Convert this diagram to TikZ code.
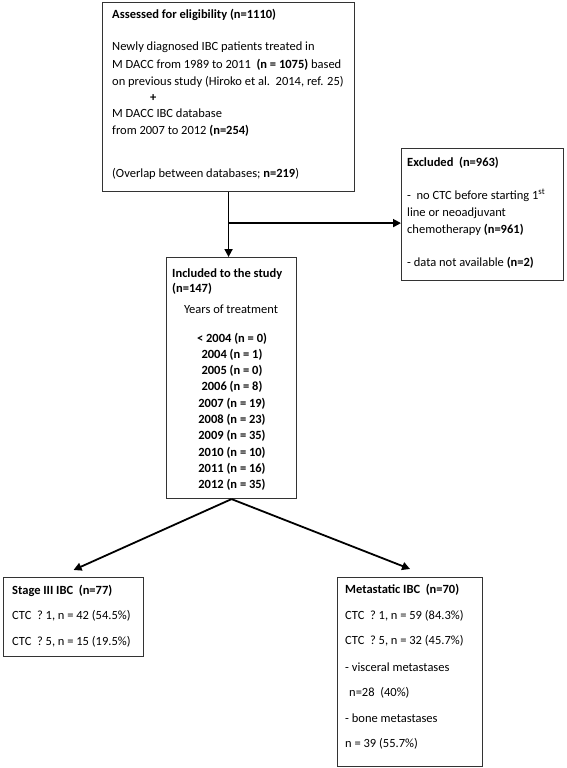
\documentclass[tikz,border=0pt]{standalone}
\usepackage{fontspec}
\setmainfont{Carlito}
\usetikzlibrary{arrows.meta,calc}
\begin{document}
\begin{tikzpicture}[x=1pt,y=-1pt,
  box/.style={draw=black!80, line width=1.1pt, anchor=north west, inner sep=0pt},
  tx/.style={anchor=base west, inner sep=0pt, font=\fontsize{12.5}{14}\selectfont},
  tc/.style={anchor=base, inner sep=0pt, font=\fontsize{12.5}{14}\selectfont},
  arr/.style={line width=1.8pt, -{Triangle[length=8pt,width=8pt]}}]
\useasboundingbox (0,0) rectangle (567,768);
\fill[white] (0,0) rectangle (567,768);
% boxes
\node[box, minimum width=252pt, minimum height=189pt] (top) at (102,2) {};
\node[box, minimum width=162pt, minimum height=132pt] (exc) at (401,148) {};
\node[box, minimum width=130pt, minimum height=241pt] (inc) at (166,257) {};
\node[box, minimum width=140pt, minimum height=79pt] (st) at (3,577) {};
\node[box, minimum width=145pt, minimum height=189pt] (met) at (337,577) {};
% top box text
\node[tx] (a1) at (112,19) {\textbf{Assessed for eligibility (n=1110)}};
\node[tx] (a2) at (112,51) {Newly diagnosed IBC patients treated in};
\node[tx] (a3) at (112,68) {M DACC from 1989 to 2011\ \ \textbf{(n = 1075)} based};
\node[tx] (a4) at (112,85) {on previous study (Hiroko et al.\ \ 2014, ref. 25)};
\node[tx] (a5) at (150,101) {\textbf{+}};
\node[tx] (a6) at (112,117) {M DACC IBC database};
\node[tx] (a7) at (112,134) {from 2007 to 2012 \textbf{(n=254)}};
\node[tx] (a8) at (112,177) {(Overlap between databases; \textbf{n=219})};
% excluded text
\node[tx] (e1) at (407,166) {\textbf{Excluded\ \ (n=963)}};
\node[tx] (e2) at (407,199) {-\ \ no CTC before starting 1\textsuperscript{st}};
\node[tx] (e3) at (407,216) {line or neoadjuvant};
\node[tx] (e4) at (407,233) {chemotherapy \textbf{(n=961)}};
\node[tx] (e5) at (407,266) {- data not available \textbf{(n=2)}};
% included text
\node[tx] (i1) at (172,277) {\textbf{Included to the study}};
\node[tx] (i2) at (172,292) {\textbf{(n=147)}};
\node[tc] (i3) at (231,313) {Years of treatment};
\node[tc] (y0) at (232,342) {\textbf{< 2004 (n = 0)}};
\node[tc] (y1) at (232,358.3) {\textbf{2004 (n = 1)}};
\node[tc] (y2) at (232,374.6) {\textbf{2005 (n = 0)}};
\node[tc] (y3) at (232,390.9) {\textbf{2006 (n = 8)}};
\node[tc] (y4) at (232,407.2) {\textbf{2007 (n = 19)}};
\node[tc] (y5) at (232,423.5) {\textbf{2008 (n = 23)}};
\node[tc] (y6) at (232,439.8) {\textbf{2009 (n = 35)}};
\node[tc] (y7) at (232,456.1) {\textbf{2010 (n = 10)}};
\node[tc] (y8) at (232,472.4) {\textbf{2011 (n = 16)}};
\node[tc] (y9) at (232,488.7) {\textbf{2012 (n = 35)}};
% stage III text
\node[tx] (s1) at (12,594) {\textbf{Stage III IBC\ \ (n=77)}};
\node[tx] (s2) at (12,619) {CTC\ \ ? 1, n = 42 (54.5\%)};
\node[tx] (s3) at (12,645) {CTC\ \ ? 5, n = 15 (19.5\%)};
% metastatic text
\node[tx] (m1) at (345,593) {\textbf{Metastatic IBC\ \ (n=70)}};
\node[tx] (m2) at (345,619) {CTC\ \ ? 1, n = 59 (84.3\%)};
\node[tx] (m3) at (345,644) {CTC\ \ ? 5, n = 32 (45.7\%)};
\node[tx] (m4) at (345,671) {- visceral metastases};
\node[tx] (m5) at (349,696) {n=28\ \ (40\%)};
\node[tx] (m6) at (345,722) {- bone metastases};
\node[tx] (m7) at (345,747) {n = 39 (55.7\%)};
% connectors
\coordinate (j) at ($(top.south)+(0,31)$);
\draw[arr] (top.south) -- (top.south |- inc.north);
\draw[arr] (j) -- (j -| exc.west);
\draw[arr] (inc.south) -- ($(st.north)+(0,-7)$);
\draw[arr] (inc.south) -- ($(met.north)+(0,-8)$);
\end{tikzpicture}
\end{document}
